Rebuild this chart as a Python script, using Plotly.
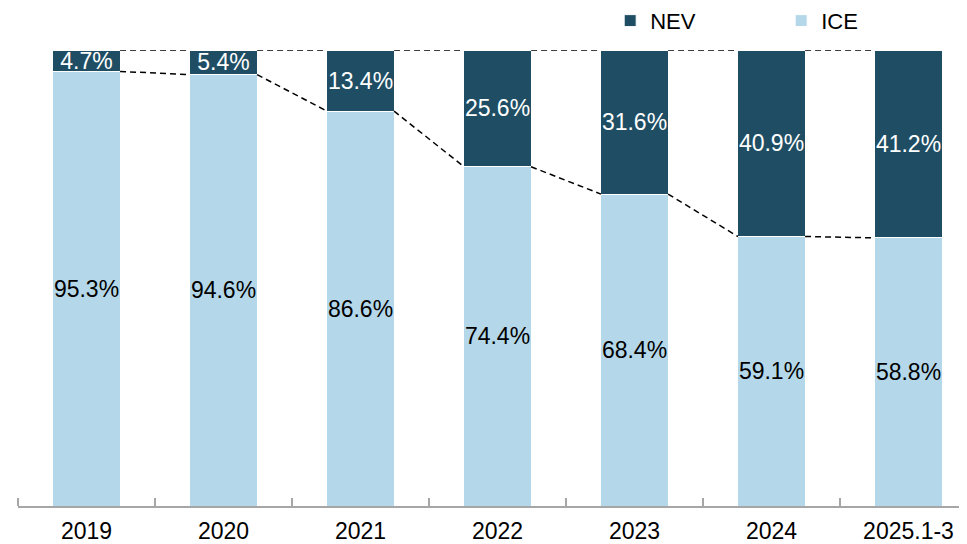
import plotly.graph_objects as go

categories = ["2019", "2020", "2021", "2022", "2023", "2024", "2025.1-3"]
ice_share = [95.3, 94.6, 86.6, 74.4, 68.4, 59.1, 58.8]
nev_share = [4.7, 5.4, 13.4, 25.6, 31.6, 40.9, 41.2]

NEV_COLOR = "#1F4E64"
ICE_COLOR = "#B4D8E9"
BAR_W = 0.49
FONT = "Liberation Sans, Arial, sans-serif"

xs = list(range(len(categories)))

fig = go.Figure()
fig.add_trace(go.Bar(
    x=xs, y=ice_share, name="ICE", width=BAR_W,
    marker=dict(color=ICE_COLOR, line=dict(color="white", width=1)),
    text=[f"{v}%" for v in ice_share], textposition="inside",
    insidetextanchor="middle", textangle=0, constraintext="none",
    textfont=dict(color="black", size=23, family=FONT),
    hoverinfo="skip",
))
fig.add_trace(go.Bar(
    x=xs, y=nev_share, name="NEV", width=BAR_W,
    marker=dict(color=NEV_COLOR, line=dict(color="white", width=1)),
    text=[f"{v}%" for v in nev_share], textposition="inside",
    insidetextanchor="middle", textangle=0, constraintext="none",
    textfont=dict(color="white", size=23, family=FONT),
    hoverinfo="skip",
))

# dashed connector lines between bars
lx, ly = [], []
totals = [a + b for a, b in zip(ice_share, nev_share)]
for i in range(len(xs) - 1):
    lx += [xs[i] + BAR_W / 2, xs[i + 1] - BAR_W / 2, None]
    ly += [ice_share[i], ice_share[i + 1], None]
    lx += [xs[i] + BAR_W / 2, xs[i + 1] - BAR_W / 2, None]
    ly += [totals[i], totals[i + 1], None]
fig.add_trace(go.Scatter(
    x=lx, y=ly, mode="lines", showlegend=False, hoverinfo="skip",
    line=dict(color="black", width=1.5, dash="6px,4px"),
    cliponaxis=False,
))

fig.update_layout(
    width=967, height=544,
    margin=dict(l=10, r=8, t=42, b=46, autoexpand=False),
    barmode="stack",
    plot_bgcolor="white", paper_bgcolor="white",
    font=dict(family=FONT, size=23, color="black"),
    showlegend=True,
    legend=dict(
        orientation="h", x=0.624, y=1.064, xanchor="left", yanchor="middle",
        traceorder="reversed", font=dict(size=22, family=FONT),
        itemwidth=30, entrywidth=126, entrywidthmode="pixels",
        bgcolor="rgba(0,0,0,0)",
    ),
    xaxis=dict(
        range=[-0.5, 6.427], tickvals=xs, ticktext=categories,
        showgrid=False, zeroline=False, ticks="",
        showline=True, linecolor="#A6A6A6", linewidth=2,
        tickfont=dict(size=23, family=FONT), ticklabelstandoff=3,
        minor=dict(tickvals=[x - 0.5 for x in xs] + [len(xs) - 0.5],
                   ticks="inside", ticklen=8, tickcolor="#A6A6A6", tickwidth=1.5,
                   showgrid=False),
    ),
    yaxis=dict(range=[0, 100], visible=False, showgrid=False, zeroline=False),
    bargap=0.51,
)

fig.write_html("out.html")
